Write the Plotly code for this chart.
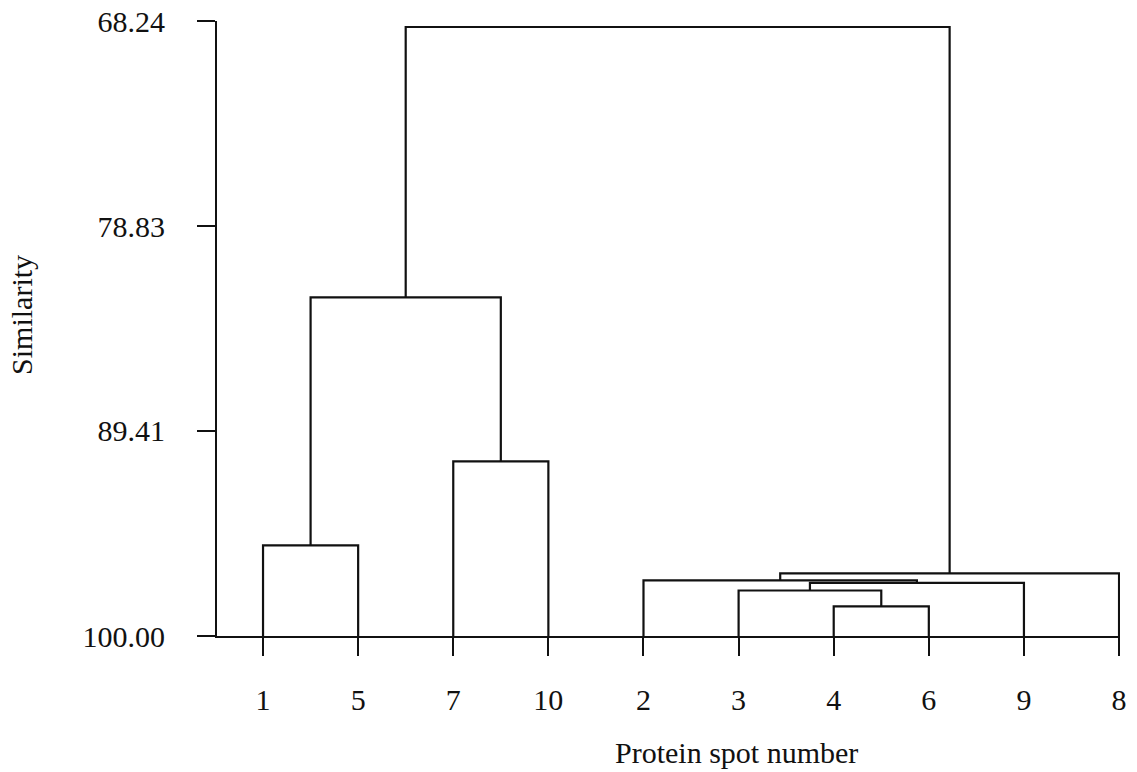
import plotly.graph_objects as go

# Leaf order along the horizontal axis
leaf_labels = ["1", "5", "7", "10", "2", "3", "4", "6", "9", "8"]

# Agglomeration steps: (left member, right member, similarity at join)
# members are leaf labels or earlier step ids "c0", "c1", ...
merge_left = ["4", "3", "c1", "2", "c3", "1", "7", "c5", "c7"]
merge_right = ["6", "c0", "9", "c2", "8", "5", "10", "c6", "c4"]
merge_similarity = [98.47, 97.65, 97.26, 97.13, 96.77, 95.32, 90.98, 82.51, 68.55]

# Similarity tick values
tick_values = [68.24, 78.83, 89.41, 100.00]
tick_labels = [f"{v:.2f}" for v in tick_values]

LEAF_LEVEL = 100.0

# position and height of every node
pos = {lab: float(i) for i, lab in enumerate(leaf_labels)}
height = {lab: LEAF_LEVEL for lab in leaf_labels}

xs, ys = [], []
for k, (a, b, h) in enumerate(zip(merge_left, merge_right, merge_similarity)):
    xa, xb = pos[a], pos[b]
    xs += [xa, xa, xb, xb, None]
    ys += [height[a], h, h, height[b], None]
    cid = f"c{k}"
    pos[cid] = (xa + xb) / 2.0
    height[cid] = h

fig = go.Figure()
fig.add_trace(go.Scatter(
    x=xs, y=ys, mode="lines",
    line=dict(color="#111111", width=2.2),
    hoverinfo="skip", showlegend=False,
))

font_family = "Liberation Serif, Times New Roman, serif"

fig.update_layout(
    width=1137, height=772,
    margin=dict(l=217, r=17, t=21, b=136),
    paper_bgcolor="white", plot_bgcolor="white",
    font=dict(family=font_family, size=30, color="#111111"),
    xaxis=dict(
        range=[-0.484, 9.01],
        automargin=False,
        tickmode="array",
        tickvals=list(range(len(leaf_labels))),
        ticktext=leaf_labels,
        ticks="outside", ticklen=18, tickwidth=2, tickcolor="#111111",
        showline=True, linecolor="#111111", linewidth=2,
        showgrid=False, zeroline=False,
        ticklabelstandoff=18,
    ),
    yaxis=dict(
        range=[100.0, 68.24],
        automargin=False,
        tickmode="array",
        tickvals=tick_values,
        ticktext=tick_labels,
        ticks="outside", ticklen=18, tickwidth=2, tickcolor="#111111",
        showline=True, linecolor="#111111", linewidth=2,
        showgrid=False, zeroline=False,
        ticklabelstandoff=26,
    ),
    annotations=[
        dict(text="Protein spot number", xref="paper", yref="paper",
             x=0.575, y=-0.19, xanchor="center", yanchor="middle",
             showarrow=False, font=dict(family=font_family, size=30)),
        dict(text="Similarity", xref="paper", yref="paper",
             x=-0.216, y=0.522, xanchor="center", yanchor="middle",
             textangle=-90, showarrow=False,
             font=dict(family=font_family, size=30)),
    ],
)

fig.write_html("out.html")
